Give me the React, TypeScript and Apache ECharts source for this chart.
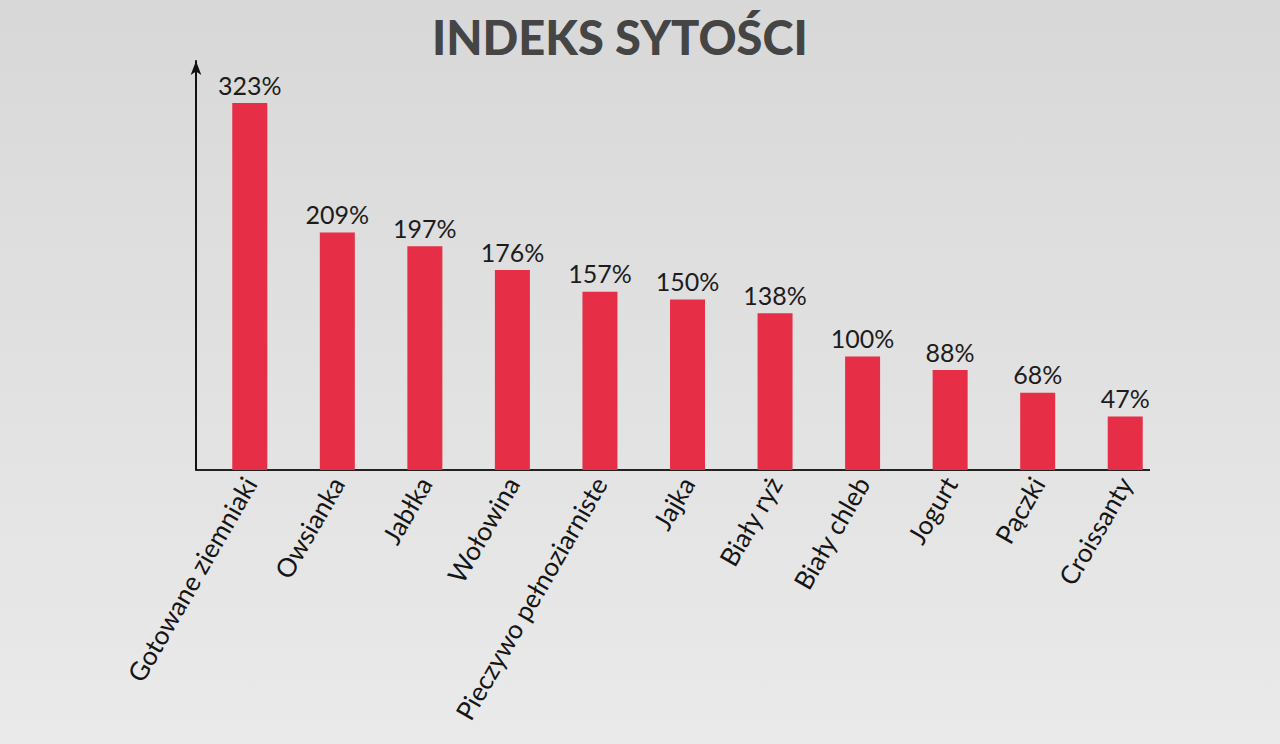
import { useEffect, useRef } from "react";
import * as echarts from "echarts";

const categories = [
  "Gotowane ziemniaki",
  "Owsianka",
  "Jabłka",
  "Wołowina",
  "Pieczywo pełnoziarniste",
  "Jajka",
  "Biały ryż",
  "Biały chleb",
  "Jogurt",
  "Pączki",
  "Croissanty",
];
const satietyValues = [323, 209, 197, 176, 157, 150, 138, 100, 88, 68, 47];

const App = () => {
  const containerRef = useRef<HTMLDivElement>(null);

  useEffect(() => {
    if (!containerRef.current) return;
    const chart = echarts.init(containerRef.current, undefined, { renderer: "svg" });

    chart.setOption({
      animation: false,
      title: {
        text: "INDEKS SYTOŚCI",
        left: 427,
        top: 8,
        textStyle: {
          fontFamily: "Lato",
          fontWeight: 900,
          fontSize: 47,
          color: "#454545",
        },
      },
      grid: { left: 206, top: 61, width: 963, height: 409 },
      xAxis: {
        type: "category",
        data: categories,
        axisLine: { show: false },
        axisTick: { show: false },
        axisLabel: {
          interval: 0,
          rotate: 60,
          margin: 9,
          fontFamily: "Lato",
          fontSize: 26,
          color: "#151515",
        },
      },
      yAxis: {
        type: "value",
        min: 0,
        max: 360,
        offset: 10,
        axisLine: {
          show: true,
          symbol: ["none", "arrow"],
          symbolSize: [8, 14],
          lineStyle: { color: "#111", width: 2 },
        },
        axisTick: { show: false },
        axisLabel: { show: false },
        splitLine: { show: false },
      },
      graphic: [
        {
          // x-axis baseline, starting at the y-axis and ending just past the last bar
          type: "line",
          shape: { x1: 196, y1: 470, x2: 1150, y2: 470 },
          style: { stroke: "#222", lineWidth: 2 },
        },
      ],
      series: [
        {
          type: "bar",
          data: satietyValues,
          barWidth: 35,
          itemStyle: { color: "#e62e47" },
          label: {
            show: true,
            position: "top",
            distance: 6,
            formatter: "{c}%",
            fontFamily: "Lato",
            fontSize: 25,
            color: "#1c1c1c",
          },
        },
      ],
    });

    return () => chart.dispose();
  }, []);

  return (
    <div
      ref={containerRef}
      style={{
        position: "absolute",
        left: 0,
        top: 0,
        width: 1280,
        height: 744,
        background: "linear-gradient(180deg, #d8d8d8 0%, #e2e2e2 55%, #eaeaea 100%)",
      }}
    />
  );
};

export default App;
